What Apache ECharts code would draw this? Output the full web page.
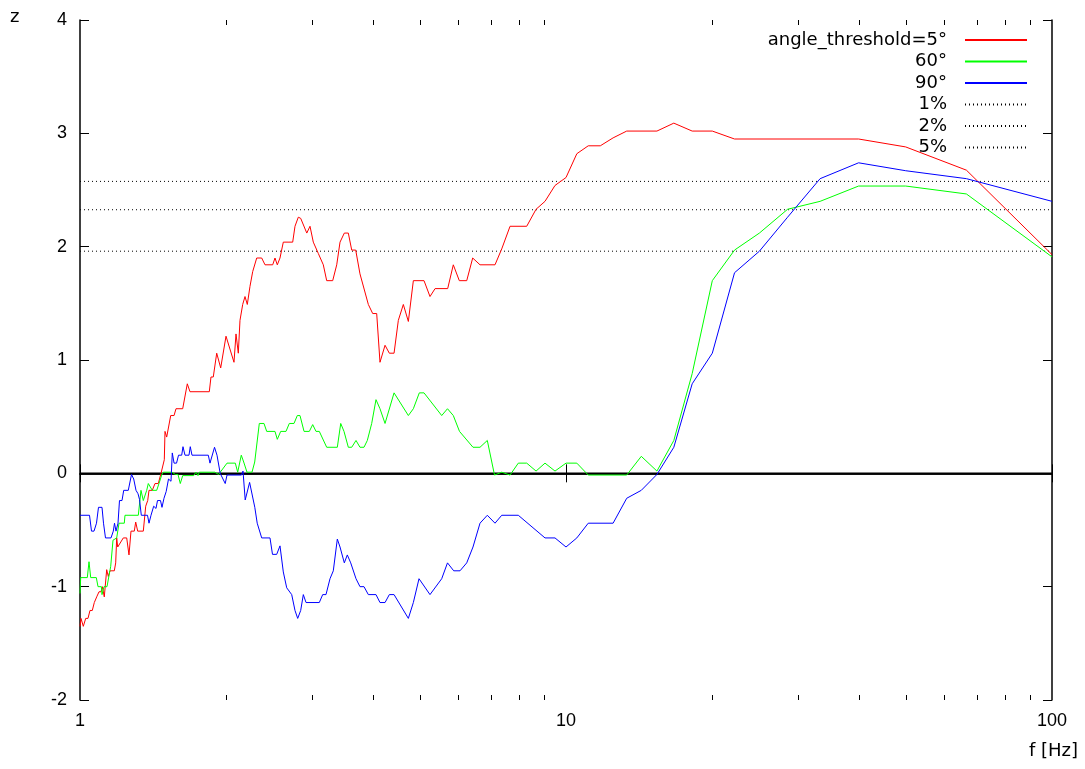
<!DOCTYPE html>
<html>
<head>
<meta charset="utf-8">
<script src="https://cdn.jsdelivr.net/npm/echarts@6/dist/echarts.min.js"></script>
<style>
  html, body { margin: 0; padding: 0; background: #ffffff; }
  #chart { width: 1085px; height: 769px; }
</style>
</head>
<body>
<div id="chart"></div>
<script>
// Rayleigh-type significance z versus frequency for three angle thresholds.
const seriesNames = ['angle_threshold=5°', '60°', '90°'];
const levelNames = ['1%', '2%', '5%'];
// two-sided normal quantiles for the significance levels
const levelZ = [2.576, 2.326, 1.960];

const redFreq = [1.0, 1.0047, 1.0158, 1.0274, 1.0386, 1.0485, 1.0600, 1.0701, 1.0824, 1.0942,
  1.1047, 1.1115, 1.1220, 1.1348, 1.1435, 1.1528, 1.1765, 1.1843, 1.1899, 1.1956,
  1.2047, 1.2277, 1.2477, 1.2613, 1.2733, 1.2934, 1.3020, 1.3144, 1.3498, 1.3652,
  1.3782, 1.3867, 1.4085, 1.4266, 1.4491, 1.4678, 1.4910, 1.4959, 1.5080, 1.5173,
  1.5369, 1.5614, 1.5759, 1.6267, 1.6626, 1.6839, 1.8453, 1.8600, 1.8803, 1.9111,
  1.9476, 1.9972, 2.0133, 2.0743, 2.0941, 2.1170, 2.1341, 2.1616, 2.1853, 2.2092,
  2.2376, 2.2665, 2.3099, 2.3652, 2.4025, 2.4917, 2.5190, 2.5466, 2.5794, 2.6201,
  2.7393, 2.7694, 2.8131, 2.8452, 2.9285, 2.9734, 3.0203, 3.0926, 3.1668, 3.2182,
  3.3110, 3.3747, 3.4279, 3.4983, 3.5652, 3.6231, 3.6924, 3.7679, 3.9200, 4.0019,
  4.0784, 4.1427, 4.2427, 4.3301, 4.4279, 4.5186, 4.6270, 4.7382, 4.8519, 5.1033,
  5.2500, 5.3776, 5.7092, 5.8630, 6.0320, 6.2478, 6.4270, 6.6536, 7.1437, 7.3747,
  7.6715, 8.3017, 8.6775, 9.0530, 9.4922, 10.0, 10.526, 11.111, 11.765, 12.5,
  13.333, 15.385, 16.667, 18.182, 20.0, 22.222, 40.0, 50.0, 66.667, 100.0];
const redZ = [-1.35, -1.28, -1.35, -1.28, -1.28, -1.21, -1.21, -1.14, -1.09, -1.045,
  -1.045, -1.0, -1.09, -0.85, -0.91, -0.86, -0.86, -0.79, -0.57, -0.65,
  -0.65, -0.57, -0.57, -0.72, -0.51, -0.51, -0.43, -0.51, -0.51, -0.29,
  -0.24, -0.15, -0.15, -0.09, -0.09, 0.0, 0.12, 0.37, 0.32, 0.32,
  0.51, 0.51, 0.57, 0.57, 0.79, 0.72, 0.72, 0.85, 0.85, 1.06,
  0.93, 1.21, 1.21, 0.98, 1.23, 1.06, 1.35, 1.49, 1.56, 1.49,
  1.65, 1.78, 1.90, 1.90, 1.84, 1.84, 1.90, 1.84, 1.90, 2.04,
  2.04, 2.18, 2.26, 2.25, 2.12, 2.18, 2.04, 1.94, 1.84, 1.70,
  1.70, 1.84, 2.04, 2.12, 2.12, 1.97, 1.97, 1.76, 1.49, 1.41,
  1.41, 0.98, 1.13, 1.06, 1.06, 1.35, 1.49, 1.34, 1.70, 1.70,
  1.56, 1.63, 1.63, 1.84, 1.70, 1.70, 1.90, 1.84, 1.84, 1.98,
  2.18, 2.18, 2.33, 2.40, 2.54, 2.61, 2.82, 2.89, 2.89, 2.96,
  3.02, 3.02, 3.09, 3.02, 3.02, 2.95, 2.95, 2.88, 2.675, 1.93];

const greenFreq = [1.0, 1.0033, 1.0352, 1.0436, 1.0520, 1.0803, 1.0891, 1.1062, 1.1099, 1.1205,
  1.1365, 1.1566, 1.1693, 1.1899, 1.2030, 1.2335, 1.2376, 1.3182, 1.3351, 1.3498,
  1.3717, 1.3821, 1.4085, 1.4382, 1.4539, 1.4726, 1.4838, 1.5467, 1.5707, 1.5909,
  1.6083, 1.6267, 1.7137, 1.7325, 1.7490, 1.7598, 1.8932, 1.9292, 1.9439, 2.0067,
  2.0872, 2.1110, 2.1472, 2.1718, 2.2060, 2.2590, 2.2881, 2.3385, 2.3911, 2.4220,
  2.5190, 2.5466, 2.5880, 2.6538, 2.6956, 2.7562, 2.7998, 2.8357, 2.8907, 2.9641,
  3.0117, 3.0593, 3.1073, 3.2182, 3.3843, 3.4393, 3.4933, 3.5652, 3.6231, 3.6977,
  3.7679, 3.8400, 3.9013, 3.9830, 4.0649, 4.1427, 4.2427, 4.4279, 4.7382, 4.8519,
  4.9906, 5.1033, 5.5496, 5.7038, 5.8630, 6.0377, 6.4362, 6.6536, 6.8877, 7.1268,
  7.3747, 7.6715, 7.9772, 8.3017, 8.6775, 9.0530, 9.4922, 10.0, 10.526, 11.111,
  13.333, 14.286, 15.385, 16.667, 18.182, 20.0, 22.222, 25.0, 28.571, 33.333,
  40.0, 50.0, 66.667, 100.0];
const greenZ = [-1.06, -0.92, -0.92, -0.78, -0.92, -0.92, -1.0, -1.0, -1.07, -1.0,
  -1.0, -0.82, -0.59, -0.57, -0.44, -0.44, -0.37, -0.37, -0.15, -0.24,
  -0.15, -0.09, -0.15, -0.15, -0.09, -0.015, 0.01, 0.01, -0.01, -0.01,
  -0.09, -0.02, -0.02, 0.01, -0.02, 0.01, 0.01, -0.01, 0.01, 0.09,
  0.09, 0.01, 0.16, 0.10, 0.01, 0.01, 0.10, 0.44, 0.44, 0.37,
  0.37, 0.30, 0.37, 0.37, 0.44, 0.44, 0.51, 0.51, 0.37, 0.37,
  0.43, 0.37, 0.37, 0.23, 0.23, 0.44, 0.37, 0.23, 0.23, 0.29,
  0.23, 0.23, 0.29, 0.44, 0.65, 0.57, 0.44, 0.71, 0.51, 0.57,
  0.71, 0.71, 0.51, 0.57, 0.51, 0.37, 0.23, 0.23, 0.29, -0.015,
  0.01, -0.015, 0.09, 0.09, 0.02, 0.09, 0.02, 0.09, 0.09, -0.015,
  -0.015, 0.15, 0.02, 0.29, 0.88, 1.70, 1.97, 2.12, 2.33, 2.40,
  2.535, 2.535, 2.465, 1.91];

const blueFreq = [1.0, 1.0461, 1.0560, 1.0686, 1.0813, 1.0916, 1.1099, 1.1178, 1.1284, 1.1582,
  1.1709, 1.1776, 1.1860, 1.1973, 1.2058, 1.2202, 1.2301, 1.2571, 1.2764, 1.2898,
  1.3039, 1.3163, 1.3257, 1.3370, 1.3769, 1.3867, 1.3999, 1.4179, 1.4334, 1.4437,
  1.4643, 1.4747, 1.4888, 1.5044, 1.5209, 1.5390, 1.5485, 1.5614, 1.5799, 1.5949,
  1.6190, 1.6290, 1.6445, 1.6759, 1.6862, 1.7000, 1.8365, 1.8513, 1.8915, 1.9138,
  1.9430, 1.9597, 1.9897, 2.0067, 2.1493, 2.1647, 2.1874, 2.2334, 2.2892, 2.3154,
  2.3652, 2.4600, 2.4893, 2.5393, 2.5794, 2.6201, 2.6627, 2.7265, 2.7694, 2.8051,
  2.8452, 2.8807, 2.9178, 3.1073, 3.1578, 3.2075, 3.2690, 3.3205, 3.3843, 3.4279,
  3.4983, 3.5481, 3.6060, 3.6977, 3.7679, 3.8400, 3.9200, 4.0649, 4.1427, 4.2427,
  4.3301, 4.4279, 4.7382, 4.8519, 4.9835, 5.2500, 5.5496, 5.7038, 5.8741, 6.0521,
  6.2478, 6.4362, 6.6536, 6.8877, 7.1437, 7.3747, 7.9772, 9.0530, 9.4922, 10.0,
  10.526, 11.111, 12.5, 13.333, 14.286, 15.385, 16.667, 18.182, 20.0, 22.222,
  25.0, 28.571, 33.333, 40.0, 50.0, 66.667, 100.0];
const blueZ = [-0.37, -0.37, -0.51, -0.51, -0.44, -0.30, -0.30, -0.44, -0.57, -0.57,
  -0.51, -0.44, -0.51, -0.44, -0.24, -0.24, -0.15, -0.15, -0.01, -0.05,
  -0.15, -0.18, -0.23, -0.37, -0.37, -0.44, -0.37, -0.29, -0.31, -0.24,
  -0.24, -0.30, -0.22, -0.16, -0.05, -0.07, 0.18, 0.09, 0.09, 0.16,
  0.16, 0.235, 0.16, 0.16, 0.235, 0.16, 0.16, 0.09, 0.23, 0.16,
  0.0, -0.015, -0.09, -0.015, -0.015, 0.02, -0.235, -0.08, -0.30, -0.44,
  -0.57, -0.57, -0.715, -0.715, -0.64, -0.87, -1.01, -1.07, -1.21, -1.28,
  -1.21, -1.07, -1.14, -1.14, -1.07, -1.07, -0.93, -0.86, -0.58, -0.65,
  -0.79, -0.72, -0.79, -0.93, -1.0, -1.0, -1.07, -1.07, -1.14, -1.14,
  -1.07, -1.07, -1.28, -1.14, -0.93, -1.07, -0.93, -0.79, -0.86, -0.86,
  -0.79, -0.65, -0.44, -0.37, -0.44, -0.37, -0.37, -0.57, -0.57, -0.65,
  -0.57, -0.44, -0.44, -0.22, -0.15, -0.01, 0.23, 0.79, 1.06, 1.77,
  1.96, 2.26, 2.60, 2.74, 2.67, 2.60, 2.40];

// axis ranges and log minor ticks
const xMin = 1, xMax = 100;
const yMin = -2, yMax = 4, yStep = 1;
const minorTickFreq = [2, 3, 4, 5, 6, 7, 8, 9, 20, 30, 40, 50, 60, 70, 80, 90];

const zip = (xs, ys) => xs.map((x, i) => [x, ys[i]]);
const colors = ['#ff0000', '#00ff00', '#0000ff'];
const FONT = 'Liberation Sans, Arial, Helvetica, sans-serif';
const KEY_FONT = 'DejaVu Sans, Liberation Sans, sans-serif';

const chart = echarts.init(document.getElementById('chart'), null, { renderer: 'canvas' });

const dataSeries = [redZ, greenZ, blueZ].map((zs, i) => ({
  name: seriesNames[i],
  type: 'line',
  data: zip([redFreq, greenFreq, blueFreq][i], zs),
  symbol: 'none',
  lineStyle: { color: colors[i], width: 1 },
  itemStyle: { color: colors[i] },
  z: 3 + i,
  silent: true
}));

const levelSeries = levelZ.map((z, i) => ({
  name: levelNames[i],
  type: 'line',
  data: [[xMin, z], [xMax, z]],
  symbol: 'none',
  lineStyle: { color: '#000000', width: 1, type: [1, 3] },
  itemStyle: { color: '#000000' },
  z: 2,
  silent: true
}));

const zeroLine = {
  name: 'zero',
  type: 'line',
  data: [[xMin, 0], [xMax, 0]],
  symbol: 'none',
  lineStyle: { color: '#000000', width: 1.5 },
  z: 2,
  silent: true
};

// minor log ticks on bottom and top edges
const minorTicks = {
  name: 'minorTicks',
  type: 'custom',
  data: minorTickFreq.map(f => [f, 0]),
  silent: true,
  z: 10,
  renderItem: function (params, api) {
    const cs = params.coordSys;
    const x = Math.round(api.coord([api.value(0), 0])[0]) + 0.5;
    const len = 5;
    const style = { stroke: '#000000', lineWidth: 1 };
    return {
      type: 'group',
      children: [
        { type: 'line', shape: { x1: x, y1: cs.y + cs.height, x2: x, y2: cs.y + cs.height - len }, style },
        { type: 'line', shape: { x1: x, y1: cs.y, x2: x, y2: cs.y + len }, style }
      ]
    };
  }
};

const axisLineStyle = { lineStyle: { color: '#000000', width: 1.5 } };
const tickStyle = { show: true, inside: true, length: 9, lineStyle: { color: '#000000', width: 1 } };

chart.setOption({
  animation: false,
  backgroundColor: '#ffffff',
  textStyle: { fontFamily: FONT },
  grid: { left: 80, right: 33, top: 20, bottom: 69, containLabel: false },
  legend: {
    data: seriesNames.concat(levelNames),
    orient: 'vertical',
    align: 'right',
    right: 57,
    top: 31,
    padding: 0,
    itemWidth: 62,
    itemHeight: 10,
    itemGap: 3.5,
    selectedMode: false,
    itemStyle: { opacity: 0 },
    textStyle: { fontFamily: KEY_FONT, fontSize: 18, color: '#000000', lineHeight: 18, padding: [0, 13, 0, 0] }
  },
  xAxis: [
    {
      type: 'log', logBase: 10, min: xMin, max: xMax, position: 'bottom',
      axisLine: axisLineStyle, axisTick: tickStyle,
      axisLabel: { color: '#000000', fontSize: 18, fontFamily: FONT, margin: 12 },
      splitLine: { show: false }, minorTick: { show: false }
    },
    {
      type: 'log', logBase: 10, min: xMin, max: xMax, position: 'top',
      axisLine: axisLineStyle, axisTick: tickStyle,
      axisLabel: { show: false }, splitLine: { show: false }
    }
  ],
  yAxis: [
    {
      type: 'value', min: yMin, max: yMax, interval: yStep, position: 'left',
      axisLine: { show: true, lineStyle: { color: '#000000', width: 1.5 } }, axisTick: tickStyle,
      axisLabel: { color: '#000000', fontSize: 18, fontFamily: FONT, margin: 13 },
      splitLine: { show: false }
    },
    {
      type: 'value', min: yMin, max: yMax, interval: yStep, position: 'right',
      axisLine: { show: true, lineStyle: { color: '#000000', width: 1.5 } }, axisTick: tickStyle,
      axisLabel: { show: false }, splitLine: { show: false }
    }
  ],
  graphic: [
    { type: 'text', left: 10, top: 8, style: { text: 'z', fontSize: 18, fontFamily: KEY_FONT, fill: '#000000' } },
    { type: 'text', right: 7, top: 742, style: { text: 'f [Hz]', fontSize: 18, fontFamily: KEY_FONT, fill: '#000000' } }
  ],
  series: dataSeries.concat(levelSeries, [zeroLine, minorTicks])
});
</script>
</body>
</html>
